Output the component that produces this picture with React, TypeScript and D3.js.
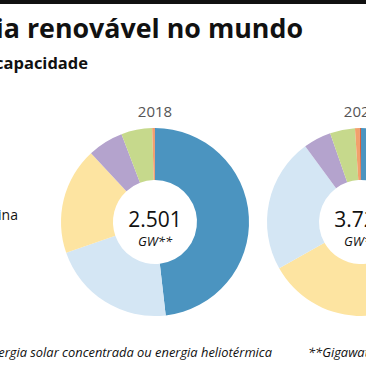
import React from "react";
import * as d3 from "d3";

// fontes, na ordem do gráfico
const categories = ["Hidrelétrica", "Eólica", "Solar fotovoltaica", "Hidrelétrica de bombeamento", "Bioenergia", "Geotérmica", "Energia marina"];
const colors = ["#4b94c0", "#d4e6f4", "#fde4a1", "#b4a3cd", "#c6d98c", "#f2a06c", "#d9603b"];

const years = ["2018", "2023"];
const values2018 = [1205, 538, 460, 153, 133, 10, 2];
const values2023 = [1290, 859, 1195, 178, 160, 30, 8];
const totals = ["2.501", "3.721"];

const W = 366;
const H = 378;
const FONT = "'Open Sans', 'Noto Sans', sans-serif";

const Donut = ({ cx, year, values, total }) => {
  const outer = 94;
  const inner = 42;
  const cy = 222;
  const pie = d3.pie<number>().sort(null).value((d) => d);
  const arc = d3.arc<d3.PieArcDatum<number>>().innerRadius(inner).outerRadius(outer);
  // ordenado do maior para o menor
  const order = d3.range(values.length).sort((a, b) => values[b] - values[a]);
  const arcs = pie(order.map((i) => values[i]));

  return (
    <g>
      <text x={cx} y={117} textAnchor="middle" fontSize={15} fill="#555" fontFamily={FONT}>
        {year}
      </text>
      <g transform={`translate(${cx},${cy})`}>
        {arcs.map((a, k) => (
          <path key={k} d={arc(a) || ""} fill={colors[order[k]]} />
        ))}
        <text y={5} textAnchor="middle" fontSize={21} fill="#111" fontFamily={FONT}>
          {total}
        </text>
        <text y={24} textAnchor="middle" fontSize={13} fontStyle="italic" fill="#111" fontFamily={FONT}>
          GW**
        </text>
      </g>
    </g>
  );
};

export default function App() {
  const x = d3.scaleOrdinal<string, number>().domain(years).range([155, 361]);
  const data = [values2018, values2023];

  return (
    <svg
      width={W}
      height={H}
      style={{ position: "fixed", left: 0, top: 0, background: "#fff" }}
    >
      <rect x={0} y={0} width={W} height={H} fill="#fff" />
      <rect x={0} y={0} width={W} height={4} fill="#111" />
      <text x={303} y={38} textAnchor="end" fontSize={26.8} fontWeight="bold" fill="#111" fontFamily={FONT}>
        Energia renovável no mundo
      </text>
      <text x={88} y={69} textAnchor="end" fontSize={16.5} fontWeight="bold" fill="#111" fontFamily={FONT}>
        Em % da capacidade
      </text>
      <text x={18} y={220} textAnchor="end" fontSize={14} fill="#111" fontFamily={FONT}>
        {categories[6]}
      </text>

      {years.map((y, i) => (
        <Donut key={y} cx={x(y)} year={y} values={data[i]} total={totals[i]} />
      ))}

      <text x={272} y={357} textAnchor="end" fontSize={12.9} fontStyle="italic" fill="#111" fontFamily={FONT}>
        *Energia solar concentrada ou energia heliotérmica
      </text>
      <text x={308} y={357} fontSize={12.9} fontStyle="italic" fill="#111" fontFamily={FONT}>
        **Gigawatts
      </text>
    </svg>
  );
}
